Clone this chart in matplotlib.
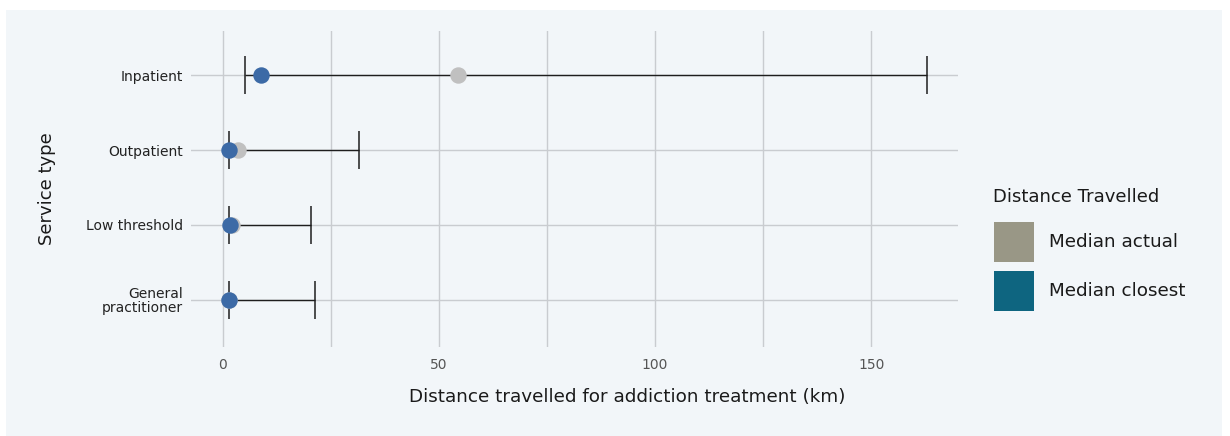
import matplotlib
matplotlib.use('Agg')
import matplotlib.pyplot as plt
from matplotlib.patches import Rectangle

# Median distances (km) and their ranges per service type
services = ['Inpatient', 'Outpatient', 'Low threshold', 'General\npractitioner']
median_actual = [54.5, 3.5, 2.0, 1.5]
median_closest = [8.8, 1.4, 1.7, 1.4]
range_low = [5.1, 1.4, 1.4, 1.4]
range_high = [163.0, 31.5, 20.4, 21.3]

legend_labels = ['Median actual', 'Median closest']
legend_colors = ['#999786', '#0e6580']

bg = '#f2f6f9'
grid_col = '#c9ccd0'
W, H = 1230, 436

fig = plt.figure(figsize=(12.3, 4.36), dpi=100, facecolor='white')
fig.patches.append(Rectangle((6 / W, 0), 1216 / W, 1 - 10 / H,
                             transform=fig.transFigure, facecolor=bg,
                             edgecolor='none', zorder=-10))

ax = fig.add_axes([191 / W, 1 - 347 / H, 767 / W, 316 / H])
ax.set_facecolor('none')

ypos = list(range(len(services)))

# range lines with end caps
ax.errorbar(range_low, ypos, xerr=[[0] * len(ypos),
            [h - l for h, l in zip(range_high, range_low)]],
            fmt='none', ecolor='#1e1e1e', elinewidth=1.0, capsize=13.5,
            capthick=1.1, zorder=3)
ax.scatter(median_actual, ypos, s=140, color='#c0c0c0', zorder=4,
           linewidths=0)
ax.scatter(median_closest, ypos, s=140, color='#3c6aa6', zorder=5,
           linewidths=0)

ax.set_xlim(-7.4, 170.1)
ax.set_ylim(3.63, -0.59)
ax.set_xticks([0, 25, 50, 75, 100, 125, 150])
ax.set_xticklabels(['0', '', '50', '', '100', '', '150'])
ax.set_yticks(ypos)
ax.set_yticklabels(services, linespacing=1.0)
ax.grid(True, color=grid_col, linewidth=1)
ax.set_axisbelow(True)
for s in ax.spines.values():
    s.set_visible(False)
ax.tick_params(axis='x', length=0, pad=8, labelsize=10, labelcolor='#555555')
ax.tick_params(axis='y', length=0, pad=6, labelsize=10, labelcolor='#222222')

fig.text(627 / W, 1 - 397 / H,
         'Distance travelled for addiction treatment (km)',
         ha='center', va='center', fontsize=13.2, color='#1a1a1a')
fig.text(47 / W, 1 - 189 / H, 'Service type', rotation=90,
         ha='center', va='center', fontsize=13, color='#1a1a1a')

# legend drawn as colour swatches with labels
fig.text(993 / W, 1 - 197 / H, 'Distance Travelled', ha='left', va='center',
         fontsize=13, color='#1a1a1a')
for i, (lab, col) in enumerate(zip(legend_labels, legend_colors)):
    top = 222 + i * 49
    fig.patches.append(Rectangle((994 / W, 1 - (top + 40) / H), 40 / W, 40 / H,
                                 transform=fig.transFigure, facecolor=col,
                                 edgecolor='none'))
    fig.text(1049 / W, 1 - (top + 20) / H, lab, ha='left', va='center',
             fontsize=13.2, color='#1a1a1a')

fig.savefig('out.png', dpi=100, facecolor='white')
